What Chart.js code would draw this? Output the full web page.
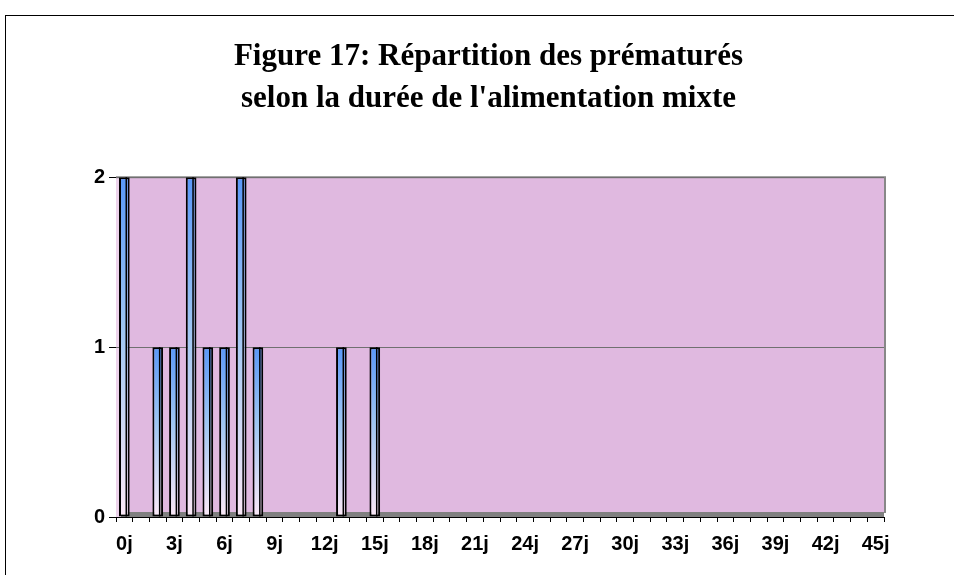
<!DOCTYPE html>
<html>
<head>
<meta charset="utf-8">
<script src="https://cdn.jsdelivr.net/npm/chart.js@4"></script>
<style>
    body { margin: 0; background: #fff; }
    #wrap { width: 954px; height: 575px; position: relative; }
</style>
</head>
<body>
<div id="wrap"><canvas id="mixteChart"></canvas></div>
<script>
const dayLabels = ['0j', '1j', '2j', '3j', '4j', '5j', '6j', '7j', '8j', '9j',
    '10j', '11j', '12j', '13j', '14j', '15j', '16j', '17j', '18j', '19j',
    '20j', '21j', '22j', '23j', '24j', '25j', '26j', '27j', '28j', '29j',
    '30j', '31j', '32j', '33j', '34j', '35j', '36j', '37j', '38j', '39j',
    '40j', '41j', '42j', '43j', '44j', '45j'];
const prematureCounts = [2, 0, 1, 1, 2, 1, 1, 2, 1, 0,
    0, 0, 0, 1, 0, 1, 0, 0, 0, 0,
    0, 0, 0, 0, 0, 0, 0, 0, 0, 0,
    0, 0, 0, 0, 0, 0, 0, 0, 0, 0,
    0, 0, 0, 0, 0, 0];
const yTicks = [0, 1, 2];
const titleLines = ['Figure 17: Répartition des prématurés', "selon la durée de l'alimentation mixte"];

// plot background, floor and frame
const plotBackdrop = {
    id: 'plotBackdrop',
    beforeDraw(chart) {
        const { ctx, chartArea: a } = chart;
        ctx.save();
        ctx.strokeStyle = '#000';
        ctx.lineWidth = 1;
        ctx.strokeRect(5.5, 15.5, 1200, 1200);

        ctx.fillStyle = '#e0b9e0';
        ctx.fillRect(a.left, a.top, a.right - a.left, a.bottom - a.top);
        ctx.fillStyle = '#edd3ec';
        ctx.fillRect(a.left, a.top, 5, a.bottom - a.top);
        ctx.fillStyle = '#808080';
        ctx.fillRect(a.left + 5, a.bottom - 5, a.right - a.left - 5, 5);

        ctx.strokeStyle = '#888';
        ctx.lineWidth = 2;
        ctx.beginPath();
        ctx.moveTo(a.left, a.top);
        ctx.lineTo(a.right + 1, a.top);
        ctx.lineTo(a.right + 1, a.bottom - 4);
        ctx.stroke();
        ctx.restore();
    },
    afterDatasetsDraw(chart) {
        // side face line of the 3D bars
        const { ctx } = chart;
        const meta = chart.getDatasetMeta(0);
        ctx.save();
        ctx.strokeStyle = '#000';
        ctx.lineWidth = 1.5;
        meta.data.forEach((bar, i) => {
            if (!prematureCounts[i]) return;
            const p = bar.getProps(['x', 'y', 'base', 'width'], true);
            const x = p.x - p.width / 2 + p.width * 0.68;
            ctx.beginPath();
            ctx.moveTo(x, p.y);
            ctx.lineTo(x, p.base);
            ctx.stroke();
        });
        ctx.restore();
    }
};

function barGradient(context) {
    const chart = context.chart;
    if (!chart.chartArea) return '#6aa5f5';
    const yScale = chart.scales.y;
    const v = prematureCounts[context.dataIndex] || 0;
    const top = yScale.getPixelForValue(v);
    const bottom = yScale.getPixelForValue(0);
    if (bottom - top < 1) return '#6aa5f5';
    const g = chart.ctx.createLinearGradient(0, top, 0, bottom);
    g.addColorStop(0, '#5a98f8');
    g.addColorStop(0.45, '#9fc6f2');
    g.addColorStop(1, '#fbe8f6');
    return g;
}

new Chart(document.getElementById('mixteChart'), {
    type: 'bar',
    data: {
        labels: dayLabels,
        datasets: [{
            data: prematureCounts,
            backgroundColor: barGradient,
            borderColor: '#000',
            borderWidth: ctx => (prematureCounts[ctx.dataIndex] ? 2 : 0),
            borderSkipped: false,
            barPercentage: 0.64,
            categoryPercentage: 1
        }]
    },
    options: {
        responsive: true,
        maintainAspectRatio: false,
        devicePixelRatio: 1,
        animation: false,
        layout: { padding: { left: 93, right: 70, top: 0, bottom: 0 } },
        plugins: {
            legend: { display: false },
            tooltip: { enabled: false },
            title: {
                display: true,
                text: titleLines,
                color: '#000',
                font: { family: 'Liberation Serif', size: 31, weight: 'bold', lineHeight: 1.36 },
                padding: { top: 36, bottom: 57 }
            }
        },
        scales: {
            x: {
                offset: true,
                afterFit: scale => { scale.height = 58; },
                grid: { offset: true, drawOnChartArea: false, tickLength: 5, tickColor: '#000' },
                border: { display: true, color: '#000', width: 1 },
                ticks: {
                    autoSkip: false,
                    maxRotation: 0,
                    padding: 10,
                    color: '#000',
                    font: { family: 'Liberation Sans', size: 20, weight: 'bold' },
                    callback: (val, idx) => (idx % 3 === 0 ? dayLabels[idx] : '')
                }
            },
            y: {
                min: yTicks[0],
                max: yTicks[yTicks.length - 1],
                afterFit: scale => { scale.width = 23; },
                afterBuildTicks: scale => { scale.ticks = yTicks.map(v => ({ value: v })); },
                grid: { color: '#707070', tickLength: 7, tickColor: '#000' },
                border: { display: false },
                ticks: {
                    padding: 4,
                    color: '#000',
                    font: { family: 'Liberation Sans', size: 20, weight: 'bold' }
                }
            }
        }
    },
    plugins: [plotBackdrop]
});
</script>
</body>
</html>
